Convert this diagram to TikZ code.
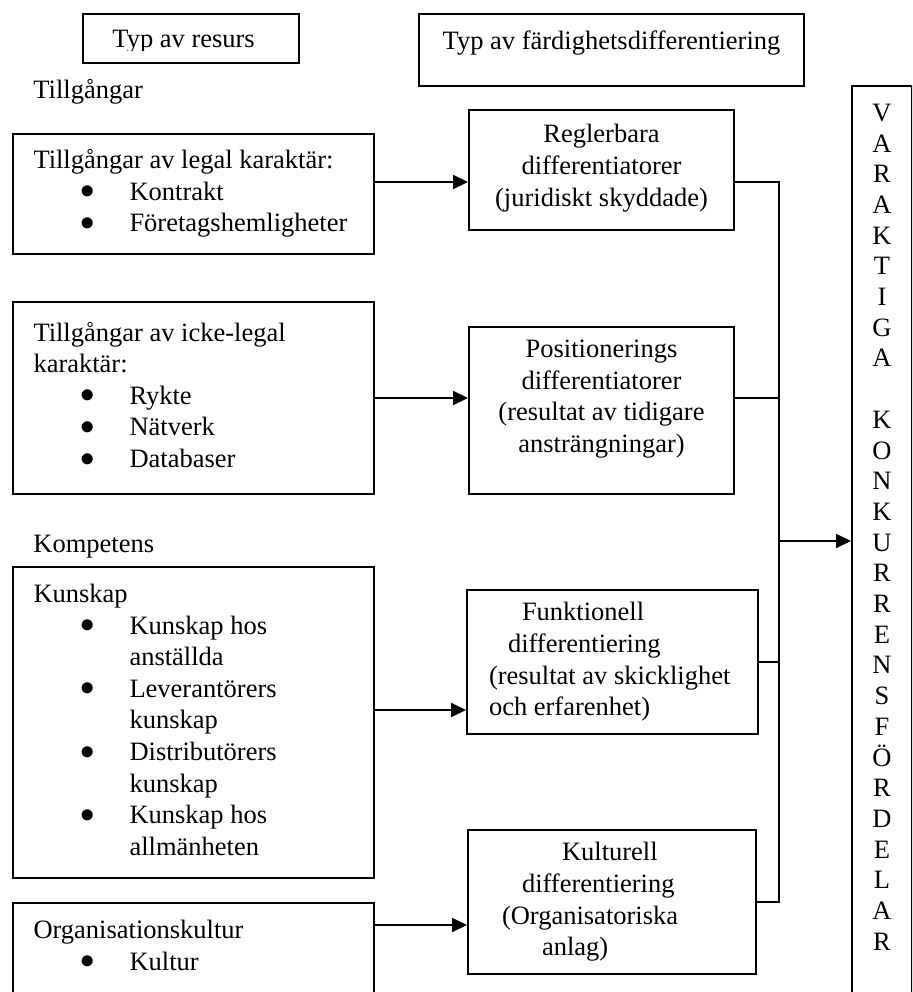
\documentclass[tikz,border=0pt]{standalone}
\usepackage{fontspec}
\setmainfont{Liberation Serif}
\usetikzlibrary{arrows.meta,positioning}

% bullet item and continuation line
\newcommand{\punkt}{\hspace*{23.7pt}\makebox[24.3pt][l]{\smash{\raisebox{0.7pt}{$\bullet$}}}}
\newcommand{\fortsatt}{\hspace*{48pt}}

\begin{document}
\begin{tikzpicture}[
    x=0.5pt, y=-0.5pt,
    font=\fontsize{13.25}{15.8}\selectfont,
    box/.style={draw, line width=1pt},
    resurs/.style={box, anchor=north west, text width=159.5pt, inner xsep=10.5pt, inner ysep=0pt, align=flush left, execute at begin node=\strut, execute at end node=\strut},
    diff/.style={box, anchor=north west, inner sep=0pt, align=flush center, execute at begin node=\strut, execute at end node=\strut},
    rubrik/.style={anchor=base west, inner sep=0pt},
    arrow/.style={-{Triangle[length=7.5pt,width=7pt]}, line width=1pt},
    link/.style={line width=1pt}
]
\clip (0,0) rectangle (912,992);

% Headers
\node [box, anchor=north west, minimum width=108pt, minimum height=24.5pt] (typresurs) at (82,13) {};
\begin{scope}
  \clip (typresurs.north west) rectangle ([yshift=6.75pt]typresurs.south east);
  \node [rubrik] (typresurstext) at (112,47) {Typ av resurs};
\end{scope}
\node [box, anchor=north west, minimum width=192.5pt, text height=17.5pt, text depth=18.5pt, inner ysep=0pt] (typdiff) at (418,13) {Typ av färdighetsdifferentiering};

% Resources
\node [rubrik] (tillgangar) at (33,98) {Tillgångar};
\node [resurs, minimum height=60pt] (legal) at (11.5,133) {Tillgångar av legal karaktär:\\ \punkt Kontrakt\\ \punkt Företagshemligheter};
\node [resurs, minimum height=96pt] (ickelegal) at (11.5,301) {Tillgångar av icke-legal\\ karaktär:\\ \punkt Rykte\\ \punkt Nätverk\\ \punkt Databaser};

\node [rubrik] (kompetens) at (33,552) {Kompetens};
\node [resurs, minimum height=155.5pt] (kunskap) at (11.5,566) {Kunskap\\ \punkt Kunskap hos\\ \fortsatt anställda\\ \punkt Leverantörers\\ \fortsatt kunskap\\ \punkt Distributörers\\ \fortsatt kunskap\\ \punkt Kunskap hos\\ \fortsatt allmänheten};
\node [resurs, minimum height=61pt] (orgkultur) at (11.5,902) {Organisationskultur\\ \punkt Kultur\\ \mbox{}};

% Differentiators
\node [diff, minimum width=132.5pt, minimum height=60pt] (regler) at (468,109) {Reglerbara\\ differentiatorer\\ (juridiskt skyddade)};
\node [diff, minimum width=132.5pt, minimum height=83.5pt] (position) at (468,326) {Positionerings\\ differentiatorer\\ (resultat av tidigare\\ ansträngningar)\\[-6.3pt]\mbox{}};
\node [diff, align=flush left, text width=123.5pt, inner xsep=11pt, minimum height=72pt] (funktion) at (466,589) {\hspace*{16.5pt}Funktionell\\ \hspace*{9.5pt}differentiering\\ (resultat av skicklighet\\ och erfarenhet)};
\node [diff, align=flush left, text width=110pt, inner xsep=17pt, minimum height=72pt] (kulturell) at (467,829) {\hspace*{30pt}Kulturell\\ \hspace*{10pt}differentiering\\ (Organisatoriska\\ \hspace*{20pt}anlag)};

% Outcome
\node [box, anchor=north west, inner xsep=0pt, inner ysep=9pt] (varaktiga) at (851,85) {\parbox{30pt}{\centering\fontsize{13.25}{15.35}\selectfont V\\A\\R\\A\\K\\T\\I\\G\\A\\\mbox{}\\K\\O\\N\\K\\U\\R\\R\\E\\N\\S\\F\\Ö\\R\\D\\E\\L\\A\\R\\\mbox{}\\\mbox{}}\hspace{20pt}};

% Arrows
\coordinate (legalut) at ([yshift=6pt]legal.east);
\coordinate (kunskaput) at ([yshift=6.25pt]kunskap.east);
\coordinate (kulturut) at ([yshift=-11.5pt]orgkultur.north east);
\draw [arrow] (legalut) -- (legalut -| regler.west);
\draw [arrow] (ickelegal.east) -- (ickelegal.east -| position.west);
\draw [arrow] (kunskaput) -- (kunskaput -| funktion.west);
\draw [arrow] (kulturut) -- (kulturut -| kulturell.west);

% Collecting line
\coordinate (buss) at (779,541);
\coordinate (reglerut) at ([yshift=-6pt]regler.east);
\coordinate (positionut) at ([yshift=6.25pt]position.east);
\draw [link] (reglerut) -| (buss);
\draw [link] (positionut) -| (buss);
\draw [link] (funktion.east) -| (buss);
\draw [link] (kulturell.east) -| (buss);
\draw [arrow] (buss) -- (buss -| varaktiga.west);

\end{tikzpicture}
\end{document}
